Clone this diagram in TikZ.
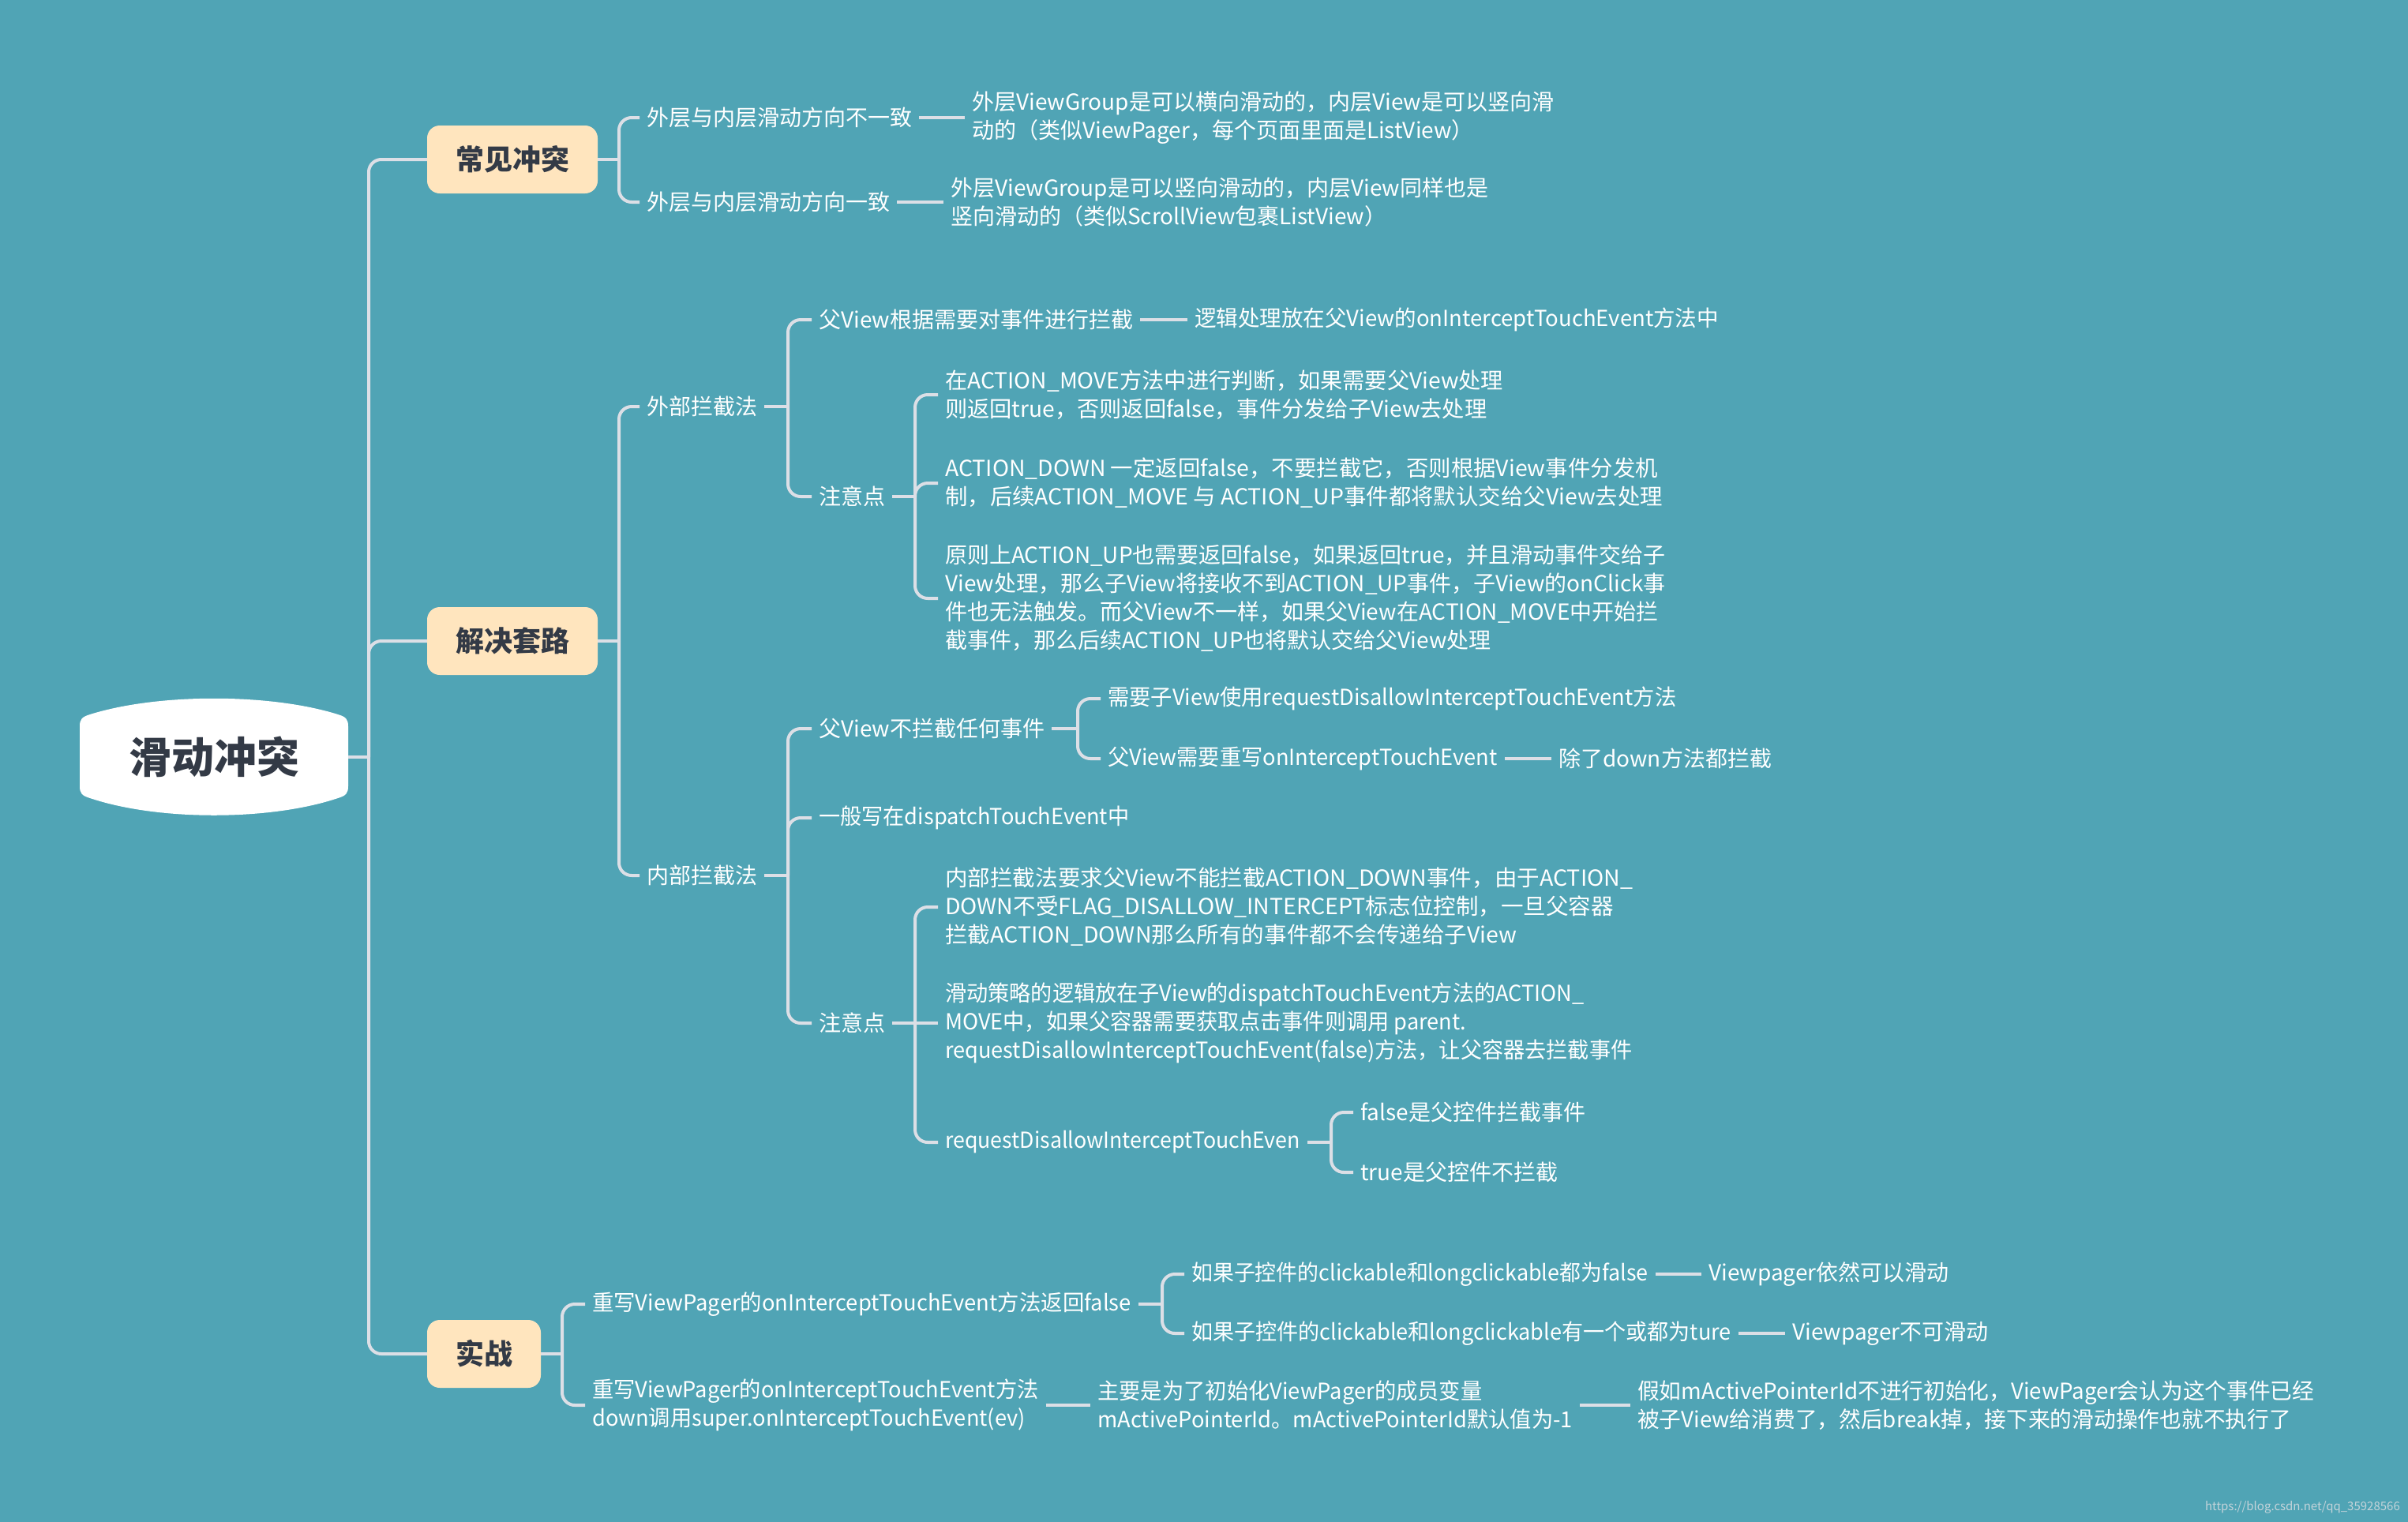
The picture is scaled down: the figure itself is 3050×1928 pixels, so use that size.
\documentclass[tikz,border=0pt]{standalone}
\usepackage{fontspec}
\setmainfont{Noto Sans CJK SC}
\definecolor{bg}{RGB}{80,164,181}
\definecolor{ln}{RGB}{220,223,230}
\definecolor{boxc}{RGB}{255,229,190}
\definecolor{dark}{RGB}{51,58,70}
\definecolor{wmc}{RGB}{196,212,218}
\tikzset{
  txt/.style={anchor=west, inner xsep=9pt, inner ysep=2pt, text=white,
    font=\fontsize{28}{36}\selectfont, align=left},
  sq/.style={font=\fontsize{28}{36}\selectfont\addfontfeatures{FakeStretch=#1}},
  cbox/.style={fill=boxc, rounded corners=16pt, minimum height=86pt,
    inner xsep=36pt, text=dark, font=\fontsize{36}{40}\selectfont\bfseries},
  rootn/.style={minimum width=340pt, minimum height=148pt, inner sep=0pt,
    text=dark, font=\fontsize{54}{60}\selectfont\bfseries},
  conn/.style={draw=ln, line width=4pt},
  brk/.style={conn, rounded corners=16pt},
}
\begin{document}
\begin{tikzpicture}[x=1pt, y=-1pt]
\fill[bg] (0,0) rectangle (3050,1928);
\useasboundingbox (0,0) rectangle (3050,1928);

% root shape
\fill[white] (101,920) -- (101,996)
  .. controls (101,1005) and (104,1008) .. (114,1011)
  .. controls (200,1040) and (342,1040) .. (428,1011)
  .. controls (438,1008) and (441,1005) .. (441,996)
  -- (441,920)
  .. controls (441,911) and (438,908) .. (428,905)
  .. controls (342,878) and (200,878) .. (114,905)
  .. controls (104,908) and (101,911) .. (101,920) -- cycle;
\node[rootn] (root) at (271,959) {滑动冲突};

% main boxes
\node[cbox] (k1) at (649,202) {常见冲突};
\node[cbox] (k2) at (649,812) {解决套路};
\node[cbox] (k3) at (613,1715) {实战};

\coordinate (t0) at (467,959);
\draw[conn] (root.east) -- (t0);
\draw[brk] (t0) |- (k1.west);
\draw[brk] (t0) |- (k2.west);
\draw[brk] (t0) |- (k3.west);

% ---- 常见冲突
\node[txt] (a1) at (810,149) {外层与内层滑动方向不一致};
\node[txt] (a2) at (810,256) {外层与内层滑动方向一致};
\node[txt] (a1l) at (1222,149) {外层ViewGroup是可以横向滑动的，内层View是可以竖向滑\\动的（类似ViewPager，每个页面里面是ListView）};
\node[txt] (a2l) at (1195,256) {外层ViewGroup是可以竖向滑动的，内层View同样也是\\竖向滑动的（类似ScrollView包裹ListView）};
\coordinate (kA) at (784,202);
\draw[conn] (k1.east) -- (kA);
\draw[brk] (kA) |- (a1.west);
\draw[brk] (kA) |- (a2.west);
\draw[conn] (a1.east) -- (a1l.west);
\draw[conn] (a2.east) -- (a2l.west);

% ---- 解决套路
\node[txt] (b1) at (810,515) {外部拦截法};
\node[txt] (b2) at (810,1109) {内部拦截法};
\coordinate (kB) at (784,812);
\draw[conn] (k2.east) -- (kB);
\draw[brk] (kB) |- (b1.west);
\draw[brk] (kB) |- (b2.west);

% 外部拦截法
\node[txt] (b11) at (1028,405) {父View根据需要对事件进行拦截};
\node[txt, sq=0.983] (b11l) at (1504,405) {逻辑处理放在父View的onInterceptTouchEvent方法中};
\node[txt] (b12) at (1028,629) {注意点};
\coordinate (pB1) at (998,515);
\draw[conn] (b1.east) -- (pB1);
\draw[brk] (pB1) |- (b11.west);
\draw[brk] (pB1) |- (b12.west);
\draw[conn] (b11.east) -- (b11l.west);

\node[txt, sq=1.008] (b121) at (1188,500) {在ACTION\_MOVE方法中进行判断，如果需要父View处理\\则返回true，否则返回false，事件分发给子View去处理};
\node[txt, sq=1.015] (b122) at (1188,612) {ACTION\_DOWN 一定返回false，不要拦截它，否则根据View事件分发机\\制，后续ACTION\_MOVE 与 ACTION\_UP事件都将默认交给父View去处理};
\node[txt] (b123) at (1188,758) {原则上ACTION\_UP也需要返回false，如果返回true，并且滑动事件交给子\\View处理，那么子View将接收不到ACTION\_UP事件，子View的onClick事\\件也无法触发。而父View不一样，如果父View在ACTION\_MOVE中开始拦\\截事件，那么后续ACTION\_UP也将默认交给父View处理};
\coordinate (pB12) at (1159,629);
\draw[conn] (b12.east) -- (pB12);
\draw[brk] (pB12) |- (b121.west);
\draw[brk] (pB12) |- (b122.west);
\draw[brk] (pB12) |- (b123.west);

% 内部拦截法
\node[txt] (b21) at (1028,923) {父View不拦截任何事件};
\node[txt, sq=0.971] (b22) at (1028,1036) {一般写在dispatchTouchEvent中};
\node[txt] (b23) at (1028,1296) {注意点};
\coordinate (pB2) at (998,1109);
\draw[conn] (b2.east) -- (pB2);
\draw[brk] (pB2) |- (b21.west);
\draw[brk] (pB2) |- (b22.west);
\draw[brk] (pB2) |- (b23.west);

\node[txt, sq=0.974] (b211) at (1394,885) {需要子View使用requestDisallowInterceptTouchEvent方法};
\node[txt, sq=0.973] (b212) at (1394,961) {父View需要重写onInterceptTouchEvent};
\node[txt] (b212l) at (1965,961) {除了down方法都拦截};
\coordinate (pB21) at (1365,923);
\draw[conn] (b21.east) -- (pB21);
\draw[brk] (pB21) |- (b211.west);
\draw[brk] (pB21) |- (b212.west);
\draw[conn] (b212.east) -- (b212l.west);

\node[txt, sq=1.02] (b231) at (1188,1149) {内部拦截法要求父View不能拦截ACTION\_DOWN事件，由于ACTION\_\\DOWN不受FLAG\_DISALLOW\_INTERCEPT标志位控制，一旦父容器\\拦截ACTION\_DOWN那么所有的事件都不会传递给子View};
\node[txt, sq=0.97] (b232) at (1188,1296) {滑动策略的逻辑放在子View的dispatchTouchEvent方法的ACTION\_\\MOVE中，如果父容器需要获取点击事件则调用 parent.\\requestDisallowInterceptTouchEvent(false)方法，让父容器去拦截事件};
\node[txt, sq=0.955] (b233) at (1188,1447) {requestDisallowInterceptTouchEven};
\coordinate (pB23) at (1159,1296);
\draw[conn] (b23.east) -- (b232.west);
\draw[brk] (pB23) |- (b231.west);
\draw[brk] (pB23) |- (b233.west);

\node[txt] (b2331) at (1714,1409) {false是父控件拦截事件};
\node[txt] (b2332) at (1714,1485) {true是父控件不拦截};
\coordinate (pB233) at (1686,1447);
\draw[conn] (b233.east) -- (pB233);
\draw[brk] (pB233) |- (b2331.west);
\draw[brk] (pB233) |- (b2332.west);

% ---- 实战
\node[txt, sq=0.978] (c1) at (741,1652) {重写ViewPager的onInterceptTouchEvent方法返回false};
\node[txt, sq=0.973] (c2) at (741,1780) {重写ViewPager的onInterceptTouchEvent方法\\down调用super.onInterceptTouchEvent(ev)};
\coordinate (kC) at (712,1715);
\draw[conn] (k3.east) -- (kC);
\draw[brk] (kC) |- (c1.west);
\draw[brk] (kC) |- (c2.west);

\node[txt, sq=0.961] (c11) at (1500,1614) {如果子控件的clickable和longclickable都为false};
\node[txt] (c11l) at (2155,1614) {Viewpager依然可以滑动};
\node[txt, sq=0.967] (c12) at (1500,1689) {如果子控件的clickable和longclickable有一个或都为ture};
\node[txt] (c12l) at (2261,1689) {Viewpager不可滑动};
\coordinate (pC1) at (1472,1652);
\draw[conn] (c1.east) -- (pC1);
\draw[brk] (pC1) |- (c11.west);
\draw[brk] (pC1) |- (c12.west);
\draw[conn] (c11.east) -- (c11l.west);
\draw[conn] (c12.east) -- (c12l.west);

\node[txt, sq=0.975] (c2l) at (1381,1780) {主要是为了初始化ViewPager的成员变量\\mActivePointerId。mActivePointerId默认值为-1};
\node[txt, sq=0.99] (c2ll) at (2065,1780) {假如mActivePointerId不进行初始化，ViewPager会认为这个事件已经\\被子View给消费了，然后break掉，接下来的滑动操作也就不执行了};
\draw[conn] (c2.east) -- (c2l.west);
\draw[conn] (c2l.east) -- (c2ll.west);

\node[anchor=east, inner sep=0pt, text=wmc, font=\fontsize{15}{15}\selectfont] (wm) at (3040,1909) {https://blog.csdn.net/qq\_35928566};
\end{tikzpicture}
\end{document}
